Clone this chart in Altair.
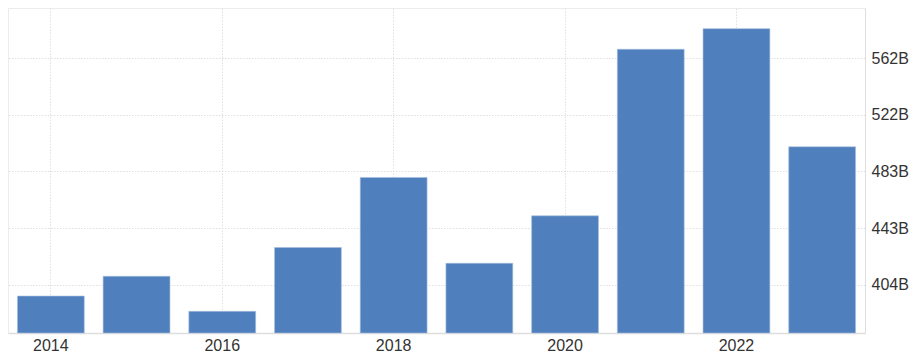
import altair as alt
import pandas as pd

years = ["2014", "2015", "2016", "2017", "2018", "2019", "2020", "2021", "2022", "2023"]
values = [396.0, 409.8, 385.3, 429.9, 478.8, 418.9, 452.0, 568.3, 582.7, 500.2]
x_ticks = ["2014", "2016", "2018", "2020", "2022"]
y_ticks = [404.0, 443.5, 483.0, 522.5, 562.0]
y_min, y_max = 370.2, 597.1

df = pd.DataFrame({"year": years, "value": values})

bars = alt.Chart(df).mark_bar(
    color="#4f80bd", stroke="#a8c0e0", strokeWidth=0.6
).encode(
    x=alt.X("year:O", sort=years,
            scale=alt.Scale(paddingInner=0.22, paddingOuter=0.11),
            axis=alt.Axis(values=x_ticks, title=None, labelAngle=0, bandPosition=0.5,
                          labelFont="Liberation Sans", labelFontSize=16, labelColor="#333333",
                          labelPadding=4, ticks=False, domainColor="#dedede", domainWidth=1.5,
                          grid=True, gridColor="#e0e0e0", gridDash=[1.5, 1.5], gridWidth=1)),
    y=alt.Y("value:Q",
            scale=alt.Scale(domain=[y_min, y_max], zero=False, nice=False),
            axis=alt.Axis(orient="right", values=y_ticks, title=None,
                          labelExpr="floor(datum.value) + 'B'",
                          labelFont="Liberation Sans", labelFontSize=16, labelColor="#333333",
                          labelPadding=6, ticks=False, domainColor="#dedede", domainWidth=1,
                          grid=True, gridColor="#e0e0e0", gridDash=[1.5, 1.5], gridWidth=1)),
    y2=alt.datum(y_min),
)

chart = bars.properties(
    width=857, height=325,
    autosize=alt.AutoSizeParams(type="none"),
    padding={"left": 8, "top": 8, "right": 52, "bottom": 26},
).configure_view(stroke="#ececec", strokeWidth=1)

chart.save("out.html", embed_options={"renderer": "svg", "actions": False})
